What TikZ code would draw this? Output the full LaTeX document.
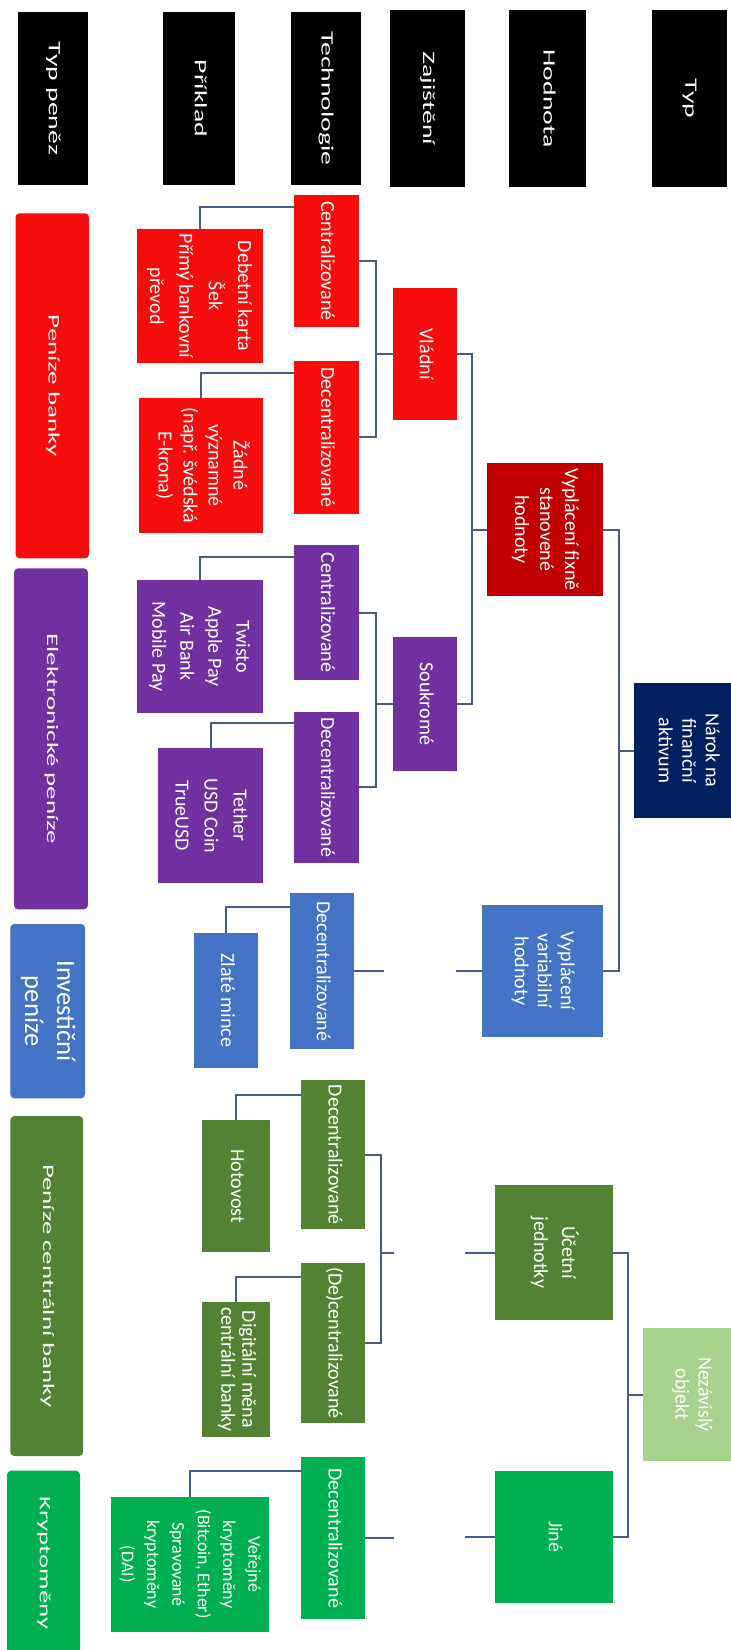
\documentclass[tikz,border=0pt]{standalone}
\usepackage{fontspec}
\setmainfont{Carlito}
\usepackage{graphicx}
\usetikzlibrary{fit,calc}
\definecolor{cRed}{RGB}{245,12,12}
\definecolor{cDRed}{RGB}{192,0,0}
\definecolor{cPur}{RGB}{112,48,160}
\definecolor{cBlue}{RGB}{68,114,196}
\definecolor{cNavy}{RGB}{0,32,96}
\definecolor{cDGreen}{RGB}{84,130,53}
\definecolor{cGreen}{RGB}{0,176,80}
\definecolor{cLGreen}{RGB}{169,209,142}
\definecolor{cLine}{RGB}{72,92,135}
% rotated, zero-size text: #1 stretch along reading direction, #2 font size, #3 line spacing, #4 lines
\newcommand\vt[4]{\makebox[0pt]{\rotatebox{-90}{\makebox[0pt]{\scalebox{#1}[1]{\fontsize{#2}{#3}\selectfont\begin{tabular}{@{}c@{}}#4\end{tabular}}}}}}
\tikzset{
  bx/.style={inner sep=0pt, outer sep=0pt, text=white},
  hdr/.style={bx, fill=black},
  col/.style={bx, rounded corners=3pt},
  conn/.style={draw=cLine, line width=1.5pt},
}
\begin{document}
\begin{tikzpicture}[x=0.75pt,y=-0.75pt]
\useasboundingbox (0,0) rectangle (731,1650);
\clip (0,0) rectangle (731,1650);
\fill[white] (0,0) rectangle (731,1650);

% headers
\node[hdr, fit={(17.8,12) (87.9,185)}] (h1) {\vt{1.6}{13}{15}{Typ peněz}};
\node[hdr, fit={(162.6,12) (235,185)}] (h2) {\vt{1.6}{13}{15}{Příklad}};
\node[hdr, fit={(290.7,12) (360.7,185)}] (h3) {\vt{1.6}{13}{15}{Technologie}};
\node[hdr, fit={(389.7,10) (464.5,187)}] (h4) {\vt{1.6}{13}{15}{Zajištění}};
\node[hdr, fit={(509.3,10) (586,187)}] (h5) {\vt{1.6}{13}{15}{Hodnota}};
\node[hdr, fit={(651.9,10) (726.6,187)}] (h6) {\vt{1.6}{13}{15}{Typ}};

% money types
\node[col, fill=cRed, fit={(15.5,213.3) (89,558.3)}] (t1) {\vt{1.68}{12}{14}{Peníze banky}};
\node[col, fill=cPur, fit={(14,568.3) (87.9,909.3)}] (t2) {\vt{1.68}{12}{14}{Elektronické peníze}};
\node[col, fill=cBlue, fit={(10.3,924) (85,1098.3)}] (t3) {\vt{1}{20}{24}{Investiční\\peníze}};
\node[col, fill=cDGreen, fit={(10.3,1116) (83.2,1456)}] (t4) {\vt{1.68}{12}{14}{Peníze centrální banky}};
\node[col, fill=cGreen, fit={(7,1470.7) (80,1655)}] (t5) {\vt{1.68}{12}{14}{Kryptoměny}};

% examples
\node[bx, fill=cRed, fit={(137,229.3) (263,362.7)}] (ex1) {\vt{1}{15}{22}{Debetní karta\\Šek\\Přímý bankovní\\převod}};
\node[bx, fill=cRed, fit={(139.3,398.3) (263,532.7)}] (ex2) {\vt{1}{15}{18.75}{Žádné\\významné\\(např. švédská\\E-krona)}};
\node[bx, fill=cPur, fit={(137,580) (263,713.3)}] (ex3) {\vt{1}{15}{21}{Twisto\\Apple Pay\\Air Bank\\Mobile Pay}};
\node[bx, fill=cPur, fit={(158,748.3) (263,883.3)}] (ex4) {\vt{1}{15}{21.75}{Tether\\USD Coin\\TrueUSD}};
\node[bx, fill=cBlue, fit={(193.5,932.7) (258.4,1068.3)}] (ex5) {\vt{1}{15}{18}{Zlaté mince}};
\node[bx, fill=cDGreen, fit={(201.9,1120) (270,1252.3)}] (ex6) {\vt{1}{15}{18}{Hotovost}};
\node[bx, fill=cDGreen, fit={(201.9,1301.7) (270,1437.3)}] (ex7) {\vt{1}{15}{15.75}{Digitální měna\\centrální banky}};
\node[bx, fill=cGreen, fit={(111,1496.7) (269.3,1631.7)}] (ex8) {\vt{1}{13.5}{19}{Veřejné\\kryptoměny\\(Bitcoin, Ether)\\Spravované\\kryptoměny\\(DAI)}};

% technology
\node[bx, fill=cRed, fit={(293.5,195) (358.5,326.7)}] (c1) {\vt{1}{15}{18}{Centralizované}};
\node[bx, fill=cRed, fit={(293.5,360.7) (358.5,514)}] (d1) {\vt{1}{15}{18}{Decentralizované}};
\node[bx, fill=cPur, fit={(293.5,545) (358.5,680)}] (c2) {\vt{1}{15}{18}{Centralizované}};
\node[bx, fill=cPur, fit={(293.5,711.7) (358.5,862.7)}] (d2) {\vt{1}{15}{18}{Decentralizované}};
\node[bx, fill=cBlue, fit={(289.7,893.3) (353.7,1049.3)}] (d3) {\vt{1}{15}{18}{Decentralizované}};
\node[bx, fill=cDGreen, fit={(301.4,1080) (365.4,1229.3)}] (d4) {\vt{1}{15}{18}{Decentralizované}};
\node[bx, fill=cDGreen, fit={(301.4,1262.7) (365.4,1423.3)}] (d5) {\vt{1}{15}{18}{(De)centralizované}};
\node[bx, fill=cGreen, fit={(301.4,1457) (365.4,1619.3)}] (d6) {\vt{1}{15}{18}{Decentralizované}};

% backing
\node[bx, fill=cRed, fit={(392.5,288.3) (457,420)}] (z1) {\vt{1}{15}{18}{Vládní}};
\node[bx, fill=cPur, fit={(392.5,636.7) (457,771)}] (z2) {\vt{1}{15}{18}{Soukromé}};

% value
\node[bx, fill=cDRed, fit={(486.7,463.3) (603.3,595.7)}] (v1) {\vt{1}{15}{18.75}{Vyplácení fixně\\stanovené\\hodnoty}};
\node[bx, fill=cBlue, fit={(482,905) (603,1037)}] (v2) {\vt{1}{15}{17.25}{Vyplácení\\variabilní\\hodnoty}};
\node[bx, fill=cDGreen, fit={(494.5,1185) (613,1320)}] (v3) {\vt{1}{15}{21}{Účetní\\jednotky}};
\node[bx, fill=cGreen, fit={(494.5,1470.7) (613,1602.7)}] (v4) {\vt{1}{15}{18}{Jiné}};

% type
\node[bx, fill=cNavy, fit={(634,683.3) (740,817.7)}] (n1) {\vt{1}{15}{17.6}{Nárok na\\finanční\\aktivum}};
\node[bx, fill=cLGreen, fit={(643.3,1328.3) (740,1460.7)}] (n2) {\vt{1}{15}{17.25}{Nezávislý\\objekt}};

% connector columns
\coordinate (k1) at (618.5,0);
\coordinate (k2) at (471.5,0);
\coordinate (k3) at (376,0);
\coordinate (k4) at (384,0);
\coordinate (k5) at (456,0);
\coordinate (k6) at (381,0);
\coordinate (k7) at (394,0);
\coordinate (k8) at (465,0);
\coordinate (k9) at (628.3,0);

\draw[conn] (v1.east) -- (v1.east -| k1) -- (v2.east -| k1) -- (v2.east);
\draw[conn] (n1.west) -- (n1.west -| k1);
\draw[conn] (z1.east) -- (z1.east -| k2) -- (z2.east -| k2) -- (z2.east);
\draw[conn] (v1.west) -- (v1.west -| k2);
\draw[conn] (c1.east) -- (c1.east -| k3) -- (d1.east -| k3) -- (d1.east);
\draw[conn] (z1.west) -- (z1.west -| k3);
\draw[conn] (c2.east) -- (c2.east -| k3) -- (d2.east -| k3) -- (d2.east);
\draw[conn] (z2.west) -- (z2.west -| k3);
\draw[conn] (d3.east) -- (d3.east -| k4);
\draw[conn] (v2.west) -- (v2.west -| k5);
\draw[conn] (d4.east) -- (d4.east -| k6) -- (d5.east -| k6) -- (d5.east);
\draw[conn] (k6 |- v3.west) -- (k7 |- v3.west);
\draw[conn] (v3.west) -- (v3.west -| k8);
\draw[conn] (d6.east) -- (d6.east -| k7);
\draw[conn] (v4.west) -- (v4.west -| k8);
\draw[conn] (v3.east) -- (v3.east -| k9) -- (v4.east -| k9) -- (v4.east);
\draw[conn] (n2.west) -- (n2.west -| k9);

\draw[conn] ($(c1.north west)+(0,12)$) -| (ex1.north);
\draw[conn] ($(d1.north west)+(0,12.6)$) -| (ex2.north);
\draw[conn] ($(c2.north west)+(0,12.3)$) -| (ex3.north);
\draw[conn] ($(d2.north west)+(0,11.6)$) -| (ex4.north);
\draw[conn] ($(d3.north west)+(0,14)$) -| (ex5.north);
\draw[conn] ($(d4.north west)+(0,15)$) -| (ex6.north);
\draw[conn] ($(d5.north west)+(0,14)$) -| (ex7.north);
\draw[conn] ($(d6.north west)+(0,14)$) -| (ex8.north);
\end{tikzpicture}
\end{document}
